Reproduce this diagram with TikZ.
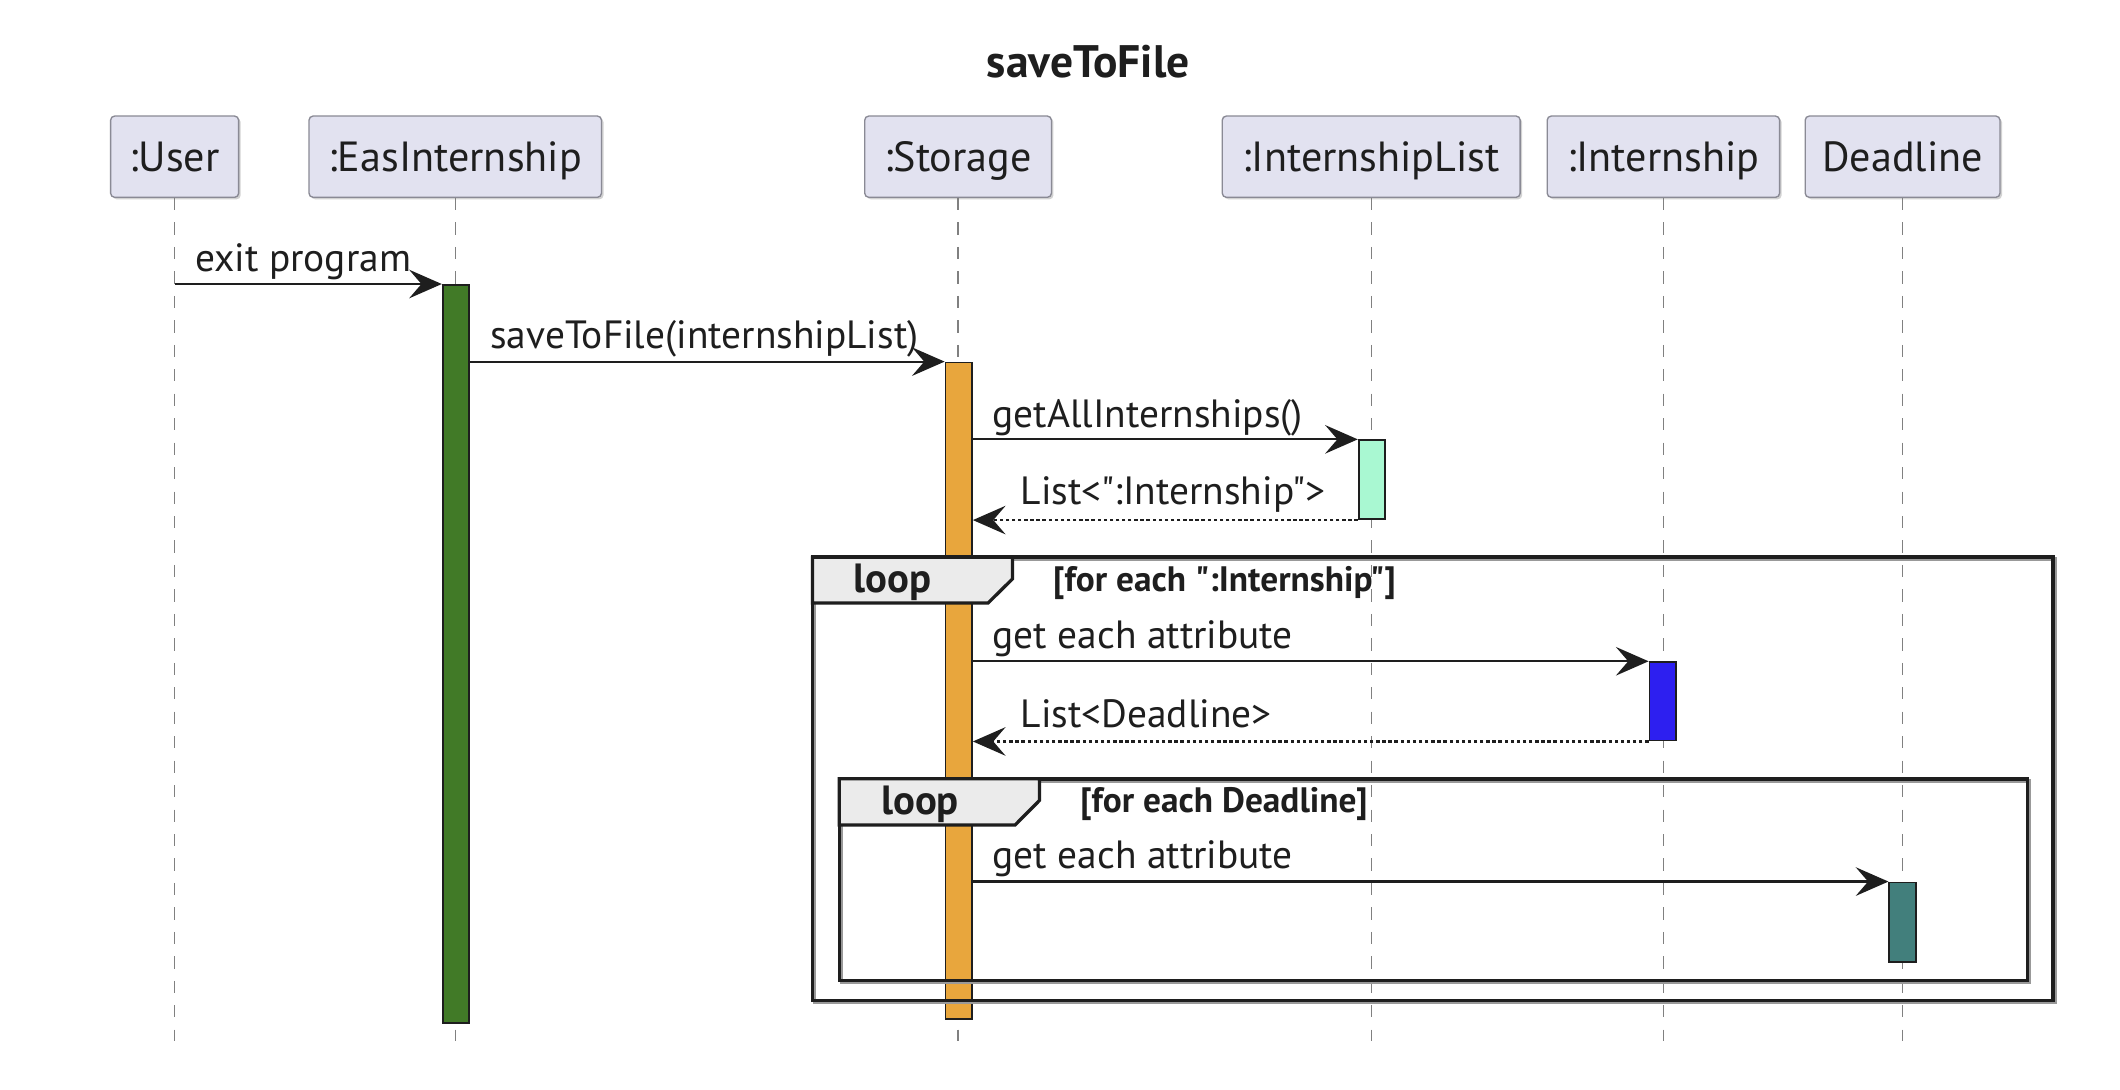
\documentclass[tikz,border=0pt]{standalone}
\usepackage{fontspec}
\setmainfont{PT Sans}[Ligatures=TeXOff]
\usetikzlibrary{arrows.meta,shadows,calc}
\definecolor{partfill}{HTML}{E2E2F0}
\definecolor{partdraw}{HTML}{8A8A95}
\definecolor{lifegray}{HTML}{808080}
\definecolor{easgreen}{HTML}{417A27}
\definecolor{stororange}{HTML}{E8A63D}
\definecolor{listmint}{HTML}{A9F8D2}
\definecolor{intblue}{HTML}{2D1FF0}
\definecolor{dlteal}{HTML}{427F7C}
\definecolor{tabfill}{HTML}{EBEBEB}
\definecolor{inkblack}{HTML}{1E1E1E}
\begin{document}
\begin{tikzpicture}[x=1pt,y=-1pt,
  part/.style={draw=partdraw, line width=1pt, fill=partfill, rounded corners=3pt,
    minimum height=59.8pt, inner sep=0pt, text height=23pt, text depth=1pt,
    font=\fontsize{31}{36}\selectfont, text=inkblack,
    drop shadow={shadow xshift=1.5pt, shadow yshift=-1.5pt, opacity=0.35}},
  life/.style={draw=lifegray, line width=1pt, dash pattern=on 9pt off 9pt},
  act/.style={draw=inkblack, line width=1.3pt, minimum width=19.5pt, inner sep=0pt, anchor=north},
  msg/.style={draw=inkblack, line width=1.6pt, -{Stealth[length=24pt,width=21pt,inset=9pt]}},
  ret/.style={msg, dash pattern=on 2.5pt off 2pt},
  msgtxt/.style={font=\fontsize{29}{34}\selectfont, anchor=base west, inner sep=0pt, text=inkblack},
  frm/.style={draw=inkblack, line width=2.6pt},
  frmshadow/.style={draw=black!40, line width=2.6pt},
  tab/.style={draw=inkblack, line width=2.4pt, fill=tabfill},
  tabtxt/.style={font=\bfseries\fontsize{30}{34}\selectfont, inner sep=0pt, text=inkblack},
  condtxt/.style={font=\bfseries\fontsize{26}{30}\selectfont, anchor=base west, inner sep=0pt, text=inkblack}
]
\useasboundingbox (0,0) rectangle (1560,802);
\fill[white] (0,0) rectangle (1560,802);

% title
\node[font=\bfseries\fontsize{33.5}{38}\selectfont, anchor=base, inner sep=0pt, text=inkblack] (title) at (800.7,57) {saveToFile};

% participants
\node[part, minimum width=94.2pt]  (pUser) at (128.5,115.3) {:User};
\node[part, minimum width=215.2pt] (pEas)  at (335,115.3) {:EasInternship};
\node[part, minimum width=137.4pt] (pSto)  at (705,115.3) {:Storage};
\node[part, minimum width=219.2pt] (pIL)   at (1009,115.3) {:InternshipList};
\node[part, minimum width=171pt]   (pInt)  at (1224,115.3) {:Internship};
\node[part, minimum width=143.3pt] (pDl)   at (1400,115.3) {Deadline};

% lifelines
\coordinate (bot) at (0,766);
\foreach \p in {pUser,pEas,pSto,pIL,pInt,pDl}{
  \draw[life] (\p.south) -- (\p.south |- bot);
}

% activations
\node[act, fill=easgreen,   minimum height=543.2pt] (aEas) at (335.5,209) {};
\node[act, fill=stororange, minimum height=483.1pt] (aSto) at (705.5,266.1) {};
\node[act, fill=listmint,   minimum height=58.1pt]  (aIL)  at (1009.5,323.3) {};
\node[act, fill=intblue,    minimum height=57.7pt]  (aInt) at (1223.5,486.6) {};
\node[act, fill=dlteal,     minimum height=58.7pt]  (aDl)  at (1400,648.7) {};

% outer loop frame
\draw[frmshadow] (599.3,411.5) rectangle (1512.3,737.8);
\draw[frm] (597.8,410) rectangle (1510.8,736.3);
\draw[tab] (597.8,410) -- (745,410) -- (745,426) -- (727,443.8) -- (597.8,443.8) -- cycle;
\node[tabtxt] (loop1) at (657,428.5) {loop};
\node[condtxt] (cond1) at (774.8,435) {[for each ":Internship"]};

% inner loop frame
\draw[frmshadow] (619.1,574.6) rectangle (1493.4,722.9);
\draw[frm] (617.6,573.1) rectangle (1491.9,721.4);
\draw[tab] (617.6,573.1) -- (764.9,573.1) -- (764.9,589) -- (747,607) -- (617.6,607) -- cycle;
\node[tabtxt] (loop2) at (677,591.5) {loop};
\node[condtxt] (cond2) at (794.7,598) {[for each Deadline]};

% messages
\draw[msg] (pUser.south |- aEas.north) -- (aEas.north west);
\node[msgtxt] (m1) at (143.5,200) {exit program};

\draw[msg] (aEas.east |- aSto.north) -- (aSto.north west);
\node[msgtxt] (m2) at (360.6,256.3) {saveToFile(internshipList)};

\draw[msg] (aSto.east |- aIL.north) -- (aIL.north west);
\node[msgtxt] (m3) at (730.2,314.5) {getAllInternships()};

\draw[ret] (aIL.south west) -- (aSto.east |- aIL.south);
\node[msgtxt] (m4) at (750.9,371) {List<":Internship">};

\draw[msg] (aSto.east |- aInt.north) -- (aInt.north west);
\node[msgtxt] (m5) at (730.2,477) {get each attribute};

\draw[ret] (aInt.south west) -- (aSto.east |- aInt.south);
\node[msgtxt] (m6) at (750.9,535) {List<Deadline>};

\draw[msg] (aSto.east |- aDl.north) -- (aDl.north west);
\node[msgtxt] (m7) at (730.2,639) {get each attribute};
\end{tikzpicture}
\end{document}
